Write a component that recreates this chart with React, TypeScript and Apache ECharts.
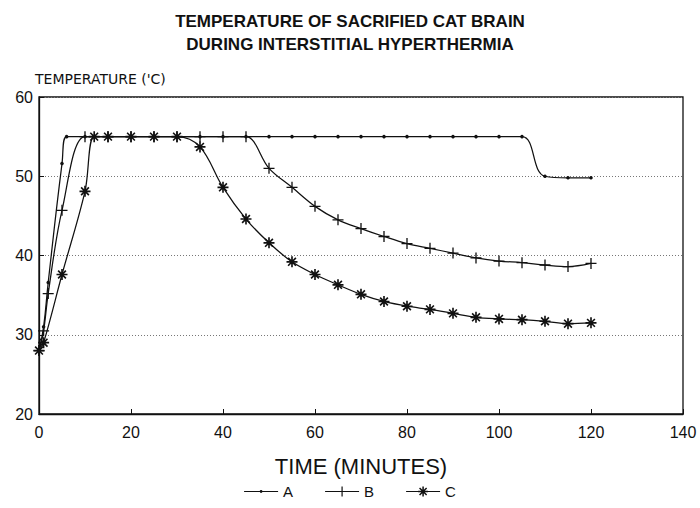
import React, { useEffect, useRef } from "react";
import * as echarts from "echarts";

const titleLines = ["TEMPERATURE OF SACRIFIED CAT BRAIN", "DURING INTERSTITIAL HYPERTHERMIA"];
const yAxisName = "TEMPERATURE ('C)";
const xAxisName = "TIME (MINUTES)";
const seriesNames = ["A", "B", "C"];

const seriesA: [number, number][] = [
  [0, 28], [1, 31], [2, 36.6], [5, 51.6], [6, 55], [10, 55], [15, 55], [20, 55], [25, 55],
  [30, 55], [35, 55], [40, 55], [45, 55], [50, 55], [55, 55], [60, 55], [65, 55], [70, 55],
  [75, 55], [80, 55], [85, 55], [90, 55], [95, 55], [100, 55], [105, 55], [110, 50],
  [115, 49.8], [120, 49.8],
];
const seriesB: [number, number][] = [
  [0, 28], [1, 30.5], [2, 35.2], [5, 45.7], [10, 55], [15, 55], [20, 55], [25, 55], [30, 55],
  [35, 55], [40, 55], [45, 55], [50, 51], [55, 48.6], [60, 46.2], [65, 44.5], [70, 43.4],
  [75, 42.4], [80, 41.5], [85, 40.9], [90, 40.3], [95, 39.7], [100, 39.3], [105, 39.1],
  [110, 38.8], [115, 38.6], [120, 39.0],
];
const seriesC: [number, number][] = [
  [0, 28], [1, 29], [5, 37.6], [10, 48.1], [12, 55], [15, 55], [20, 55], [25, 55], [30, 55],
  [35, 53.7], [40, 48.6], [45, 44.6], [50, 41.6], [55, 39.2], [60, 37.6], [65, 36.3],
  [70, 35.1], [75, 34.2], [80, 33.6], [85, 33.2], [90, 32.7], [95, 32.2], [100, 32.0],
  [105, 31.9], [110, 31.7], [115, 31.4], [120, 31.5],
];

// shape helpers (marker glyphs)
function rectPath(cx: number, cy: number, deg: number, L: number, w: number): string {
  const t = (deg * Math.PI) / 180;
  const dx = Math.cos(t), dy = Math.sin(t);
  const nx = -dy, ny = dx;
  const pts = [
    [cx + L * dx + w * nx, cy + L * dy + w * ny],
    [cx - L * dx + w * nx, cy - L * dy + w * ny],
    [cx - L * dx - w * nx, cy - L * dy - w * ny],
    [cx + L * dx - w * nx, cy + L * dy - w * ny],
  ];
  return "M" + pts.map((p) => p[0].toFixed(2) + "," + p[1].toFixed(2)).join(" L") + " Z ";
}
function plusShape(cx: number, cy: number, r: number, w: number): string {
  return rectPath(cx, cy, 90, r, w) + rectPath(cx, cy, 0, r, w);
}
function starShape(cx: number, cy: number, r: number, w: number): string {
  return [90, 0, 45, 135].map((a) => rectPath(cx, cy, a, r, w)).join("");
}
function dotShape(cx: number, cy: number, r: number): string {
  return `M${cx - r},${cy} A${r},${r} 0 1 1 ${cx + r},${cy} A${r},${r} 0 1 1 ${cx - r},${cy} Z `;
}

const plusSymbol = "path://" + plusShape(5, 5, 5, 0.6);
const starSymbol = "path://" + starShape(5, 5, 5, 0.75);

const legendLine = (extra: string) => "path://M0,4.45 L34,4.45 L34,5.55 L0,5.55 Z " + extra;
const legendIcons = [
  legendLine(dotShape(17, 5, 1.4) + "M0,0.01 L0.01,0.01 L0.01,0 Z M0,9.99 L0.01,9.99 L0.01,10 Z"),
  legendLine(plusShape(17, 5, 5, 0.6)),
  legendLine(starShape(17, 5, 5, 0.75)),
];

export default function App() {
  const ref = useRef<HTMLDivElement>(null);
  useEffect(() => {
    if (!ref.current) return;
    const chart = echarts.init(ref.current, null, { renderer: "svg" });
    const font = "'Liberation Sans', Arial, sans-serif";
    const lineCommon = {
      type: "line",
      smooth: 0.35,
      lineStyle: { color: "#111", width: 1.25 },
      itemStyle: { color: "#111", borderColor: "#111", borderWidth: 0 },
      emphasis: { disabled: true },
    };
    chart.setOption({
      animation: false,
      backgroundColor: "#fff",
      textStyle: { fontFamily: font, color: "#111" },
      title: {
        text: titleLines.join("\n"),
        left: "center",
        top: 5,
        textStyle: { fontFamily: font, fontSize: 17, fontWeight: "bold", color: "#111", lineHeight: 23 },
      },
      legend: {
        bottom: 4,
        left: "center",
        itemWidth: 34,
        itemHeight: 10,
        itemGap: 32,
        textStyle: { fontFamily: font, fontSize: 15, color: "#111" },
        data: seriesNames.map((n, i) => ({ name: n, icon: legendIcons[i] })),
      },
      grid: {
        left: 39,
        right: 17,
        top: 97,
        bottom: 94,
        show: true,
        borderColor: "#111",
        borderWidth: 1.3,
      },
      xAxis: {
        type: "value",
        min: 0,
        max: 140,
        interval: 20,
        name: xAxisName,
        nameLocation: "middle",
        nameGap: 41,
        nameTextStyle: { fontFamily: font, fontSize: 22, color: "#111" },
        axisLine: { show: true, lineStyle: { color: "#111", width: 1.3 } },
        axisTick: { show: true, inside: true, length: 5, lineStyle: { color: "#111" } },
        axisLabel: { fontFamily: font, fontSize: 16, color: "#111", margin: 10 },
        splitLine: { show: false },
      },
      yAxis: {
        type: "value",
        min: 20,
        max: 60,
        interval: 10,
        name: yAxisName,
        nameLocation: "end",
        nameGap: 11,
        nameTextStyle: { fontFamily: "'DejaVu Sans', sans-serif", fontSize: 14, color: "#111", align: "left", padding: [0, 0, 0, -4] },
        axisLine: { show: true, lineStyle: { color: "#111", width: 1.3 } },
        axisTick: { show: true, inside: true, length: 5, lineStyle: { color: "#111" } },
        axisLabel: { fontFamily: font, fontSize: 16, color: "#111", margin: 6 },
        splitLine: { show: true, lineStyle: { color: "#777", type: [1, 2], width: 1 } },
      },
      series: [
        { ...lineCommon, name: seriesNames[0], data: seriesA, symbol: "circle", symbolSize: 3.5, smooth: 0.45 },
        { ...lineCommon, name: seriesNames[1], data: seriesB, symbol: plusSymbol, symbolSize: 11 },
        { ...lineCommon, name: seriesNames[2], data: seriesC, symbol: starSymbol, symbolSize: 11 },
      ],
    });
    return () => chart.dispose();
  }, []);
  return <div ref={ref} style={{ width: 700, height: 508, position: "absolute", left: 0, top: 0 }} />;
}
